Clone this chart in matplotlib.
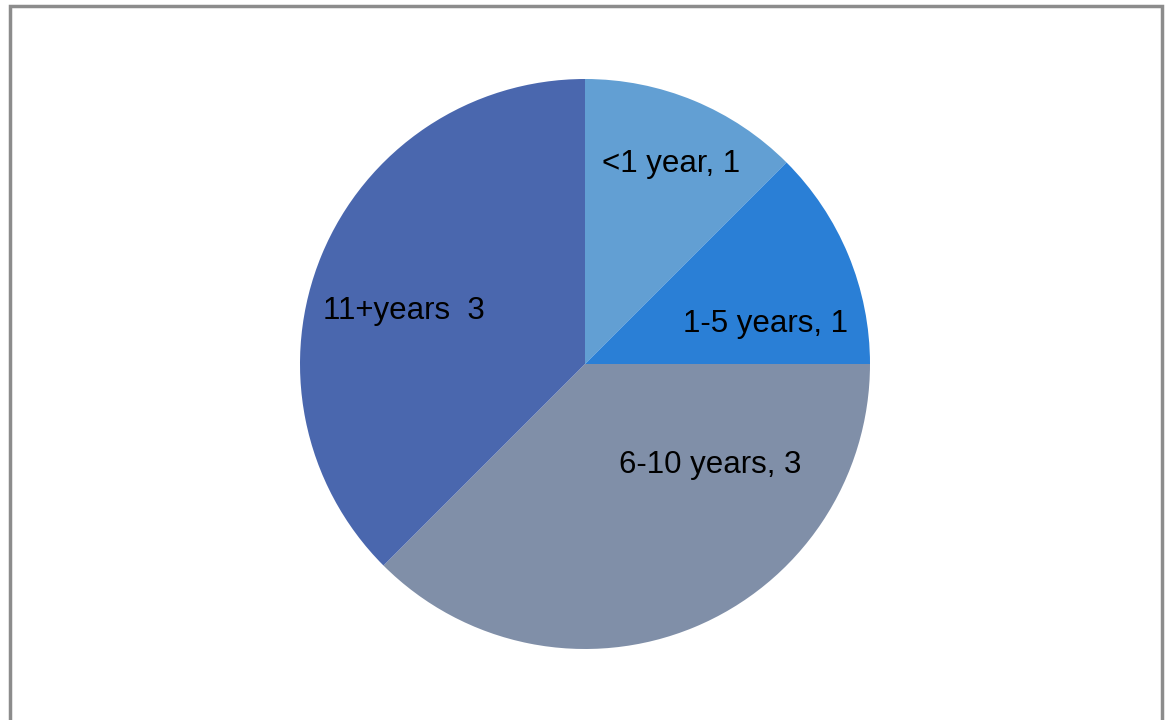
import matplotlib
matplotlib.use("Agg")
import matplotlib.pyplot as plt
from matplotlib.patches import Rectangle

categories = ["<1 year", "1-5 years", "6-10 years", "11+years"]
values = [1, 1, 3, 3]
labels = ["<1 year, 1", "1-5 years, 1", "6-10 years, 3", "11+years  3"]
colors = ["#629FD3", "#2A7FD6", "#808FA8", "#4A67AE"]

W, H = 1168, 720
fig = plt.figure(figsize=(W / 100, H / 100), dpi=100)
fig.patch.set_facecolor("white")

r_px = 285
cx, cy = 585, 364
ax = fig.add_axes([(cx - r_px) / W, (H - cy - r_px) / H, 2 * r_px / W, 2 * r_px / H])
ax.pie(values, colors=colors, startangle=90, counterclock=False, radius=1,
       wedgeprops=dict(linewidth=0))
ax.set_xlim(-1, 1)
ax.set_ylim(-1, 1)
ax.set_aspect("equal")
ax.axis("off")

label_pos = [(0.302, 0.703), (0.632, 0.142), (0.439, -0.353), (-0.635, 0.187)]
for lab, (x, y) in zip(labels, label_pos):
    ax.text(x, y, lab, ha="center", va="center", fontsize=22.5,
            family="Liberation Sans", color="black")

fig.patches.append(Rectangle((9.5 / W, -0.2), (1161.5 - 9.5) / W, (H - 6) / H + 0.2,
                             transform=fig.transFigure, fill=False,
                             edgecolor="#8c8c8c", linewidth=2.5))

fig.savefig("out.png", dpi=100)
